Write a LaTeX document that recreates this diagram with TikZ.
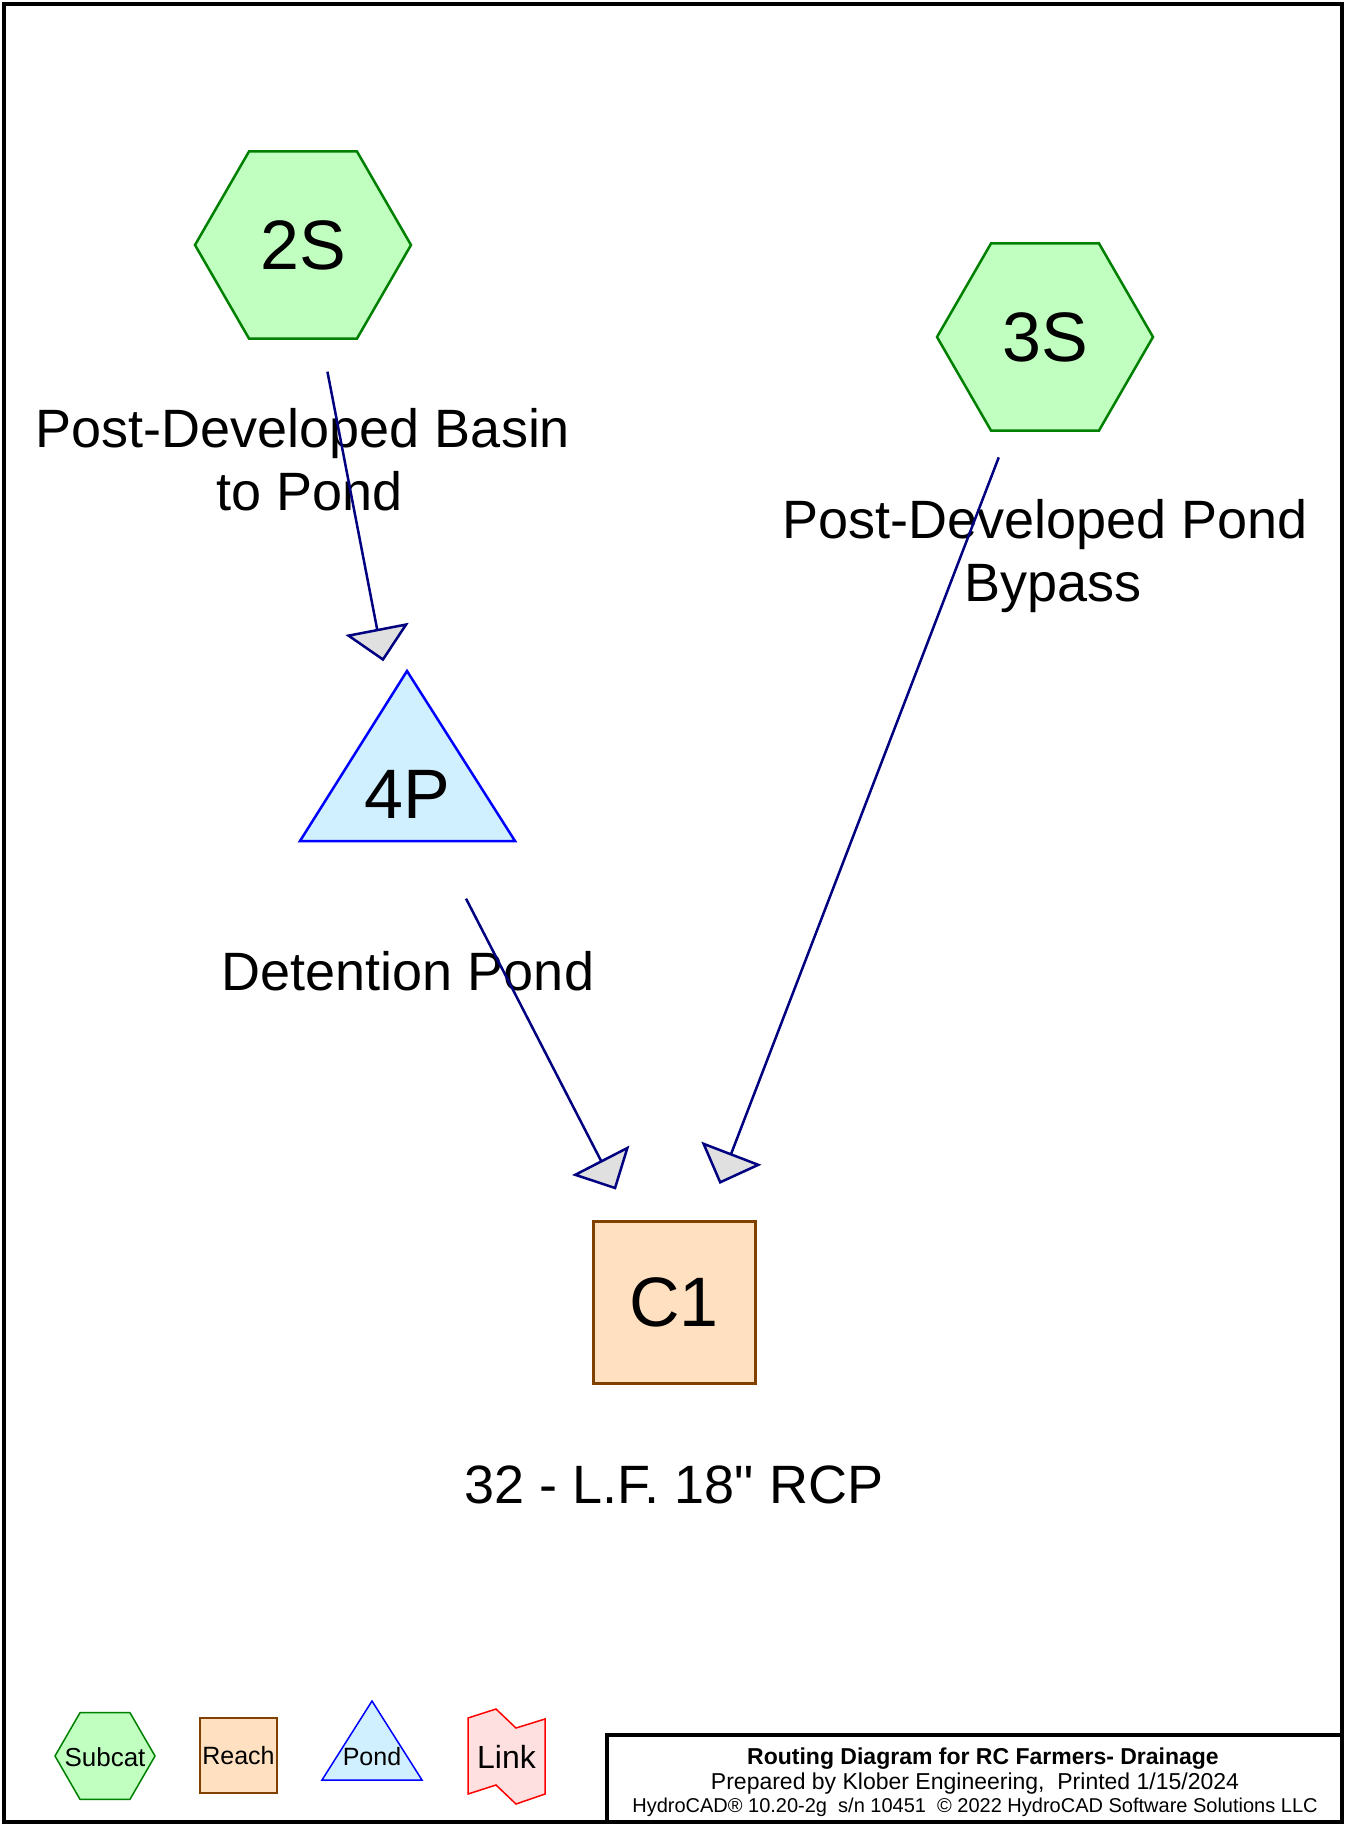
\documentclass[tikz,border=0pt]{standalone}
\usepackage{fontspec}
\setmainfont{Liberation Sans}[Ligatures=TeXOff]
\usetikzlibrary{arrows.meta,shapes.geometric}

\definecolor{subfill}{RGB}{192,255,192}
\definecolor{subdraw}{RGB}{0,128,0}
\definecolor{reachfill}{RGB}{255,224,192}
\definecolor{reachdraw}{RGB}{128,64,0}
\definecolor{pondfill}{RGB}{208,240,255}
\definecolor{ponddraw}{RGB}{0,0,255}
\definecolor{linkfill}{RGB}{255,224,224}
\definecolor{linkdraw}{RGB}{255,0,0}
\definecolor{flowline}{RGB}{0,0,128}
\definecolor{headfill}{RGB}{224,224,224}

\begin{document}
\begin{tikzpicture}[x=1pt,y=-1pt,
  idfont/.style={font=\fontsize{70}{80}\selectfont},
  subcat/.style={regular polygon, regular polygon sides=6, minimum size=216pt,
    inner sep=0pt, draw=subdraw, fill=subfill, line width=2.5pt, idfont},
  reach/.style={rectangle, minimum size=162pt, inner sep=0pt,
    draw=reachdraw, fill=reachfill, line width=3pt, idfont},
  pondshape/.style={draw=ponddraw, fill=pondfill, line width=2.5pt, line join=miter},
  idtext/.style={inner sep=0pt, idfont},
  caption/.style={inner sep=0pt, align=center, anchor=base,
    font=\fontsize{54}{62.5}\selectfont},
  flow/.style={draw=flowline, line width=2.5pt,
    -{Triangle[length=33pt,width=64pt,fill=headfill]},
    shorten <=129pt, shorten >=127pt},
  legsub/.style={regular polygon, regular polygon sides=6, minimum size=100pt,
    inner sep=0pt, draw=subdraw, fill=subfill, line width=1.5pt},
  legreach/.style={rectangle, minimum width=77pt, minimum height=75pt, inner sep=0pt,
    draw=reachdraw, fill=reachfill, line width=1.5pt},
  legpond/.style={draw=ponddraw, fill=pondfill, line width=1.5pt},
  leglink/.style={draw=linkdraw, fill=linkfill, line width=1.5pt},
  legtext/.style={inner sep=0pt, font=\fontsize{25}{30}\selectfont},
  titletext/.style={inner sep=0pt, anchor=base}
]
\useasboundingbox (0,0) rectangle (1345,1825);

% frame
\draw[line width=4pt] (4,4) rectangle (1342,1822);

% subcatchments
\node[subcat] (2S) at (303,245) {2S};
\node[subcat] (3S) at (1045,337) {3S};

% pond
\draw[pondshape] (407,671) -- (515,841) -- (300,841) -- cycle;
\coordinate (4Pc) at (407,784);
\node[idtext] (4P) at (407,794) {4P};

% reach
\node[reach] (C1) at (674,1302.5) {C1};

% captions (base anchor sits on the last line)
\node[caption] (cap2S) at (303,510) {Post-Developed Basin\\\hspace*{14pt}to Pond};
\node[caption] (cap3S) at (1045,601) {Post-Developed Pond\\\hspace*{16pt}Bypass};
\node[caption] (cap4P) at (408,990) {Detention Pond};
\node[caption] (capC1) at (674,1503) {32 - L.F. 18" RCP};

% flow connectors
\draw[flow, shorten >=125pt] (2S.center) -- (4Pc);
\draw[flow] (4Pc) -- (C1.center);
\draw[flow] (3S.center) -- (C1.center);

% legend
\node[legsub] (legS) at (105,1756) {};
\node[legtext, font=\fontsize{26}{30}\selectfont] (legSt) at (105,1757) {Subcat};
\node[legreach] (legR) at (238.5,1755.5) {};
\node[legtext] (legRt) at (238.5,1756) {Reach};
\draw[legpond] (372,1701) -- (422,1780) -- (322,1780) -- cycle;
\node[legtext] (legP) at (372,1757) {Pond};
\draw[leglink] (468,1718) -- (496,1709) -- (516,1728) -- (545,1719)
  -- (545,1794) -- (516,1804) -- (496,1785) -- (468,1794) -- cycle;
\node[legtext, font=\fontsize{32}{36}\selectfont] (legL) at (506.5,1757) {Link};

% title block
\draw[line width=4pt] (606.5,1735) rectangle (1342,1822);
\node[titletext, font=\bfseries\fontsize{23}{26}\selectfont] (ttl1) at (983,1764)
  {Routing Diagram for RC Farmers- Drainage};
\node[titletext, font=\fontsize{23}{26}\selectfont] (ttl2) at (975,1789)
  {Prepared by Klober Engineering,\ \ Printed 1/15/2024};
\node[titletext, font=\fontsize{20}{24}\selectfont] (ttl3) at (975,1812)
  {HydroCAD® 10.20-2g\ \ s/n 10451\ \ © 2022 HydroCAD Software Solutions LLC};
\end{tikzpicture}
\end{document}
